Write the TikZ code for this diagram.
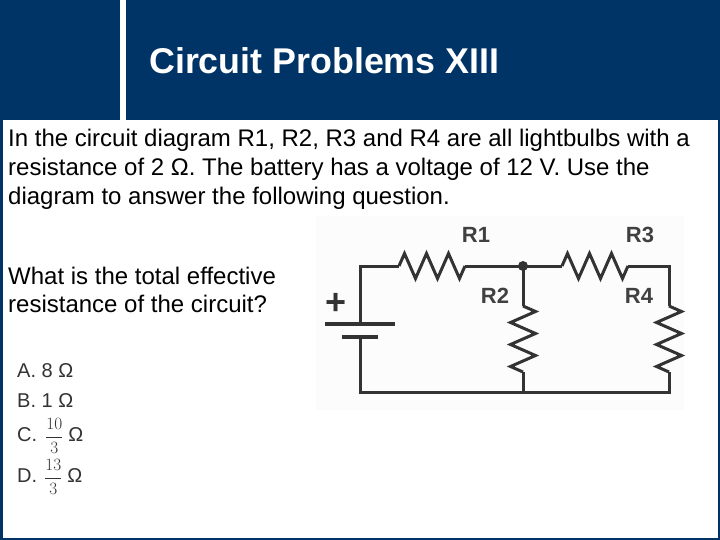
\documentclass[tikz,border=0pt]{standalone}
\usepackage{fontspec}
\setmainfont{Liberation Sans}
\usetikzlibrary{positioning}
\usetikzlibrary{decorations.pathmorphing}
\definecolor{navy}{HTML}{003366}
\DeclareMathSizes{16}{16}{12}{9}

\begin{document}
\begin{tikzpicture}[x=1pt, y=-1pt,
        title/.style={text=white, font=\bfseries\fontsize{35.8}{38}\selectfont, anchor=west, inner sep=0pt},
        bodytext/.style={text=black, font=\fontsize{24}{26}\selectfont, anchor=west, inner sep=0pt, text height=17pt, text depth=5pt},
        choice/.style={text=black!80, font=\fontsize{20}{22}\selectfont, anchor=west, inner sep=0pt},
        reslabel/.style={text=black!75, font=\bfseries\fontsize{22}{24}\selectfont, inner sep=0pt},
        wire/.style={black!80, line width=3pt},
        plate/.style={black!80, line width=4pt},
        resistor/.style={wire, decorate, decoration={zigzag, segment length=22pt, amplitude=12.5pt, pre length=0pt, post length=0pt}}
      ]
        \useasboundingbox (0,0) rectangle (720,540);
        \fill[navy] (0,0) rectangle (720,540);
        \fill[white] (3,120) rectangle (718,538);
        \fill[white] (120,0) rectangle (126,120);
        \fill[black!1] (316,216) rectangle (684,410);

        \node[title] (title) at (149,61) {Circuit Problems XIII};

        \node[bodytext] (line1) at (8,141) {In the circuit diagram R1, R2, R3 and R4 are all lightbulbs with a};
        \node[bodytext] (line2) [below=29pt of line1.west, anchor=west] {resistance of 2 Ω. The battery has a voltage of 12 V. Use the};
        \node[bodytext] (line3) [below=29pt of line2.west, anchor=west] {diagram to answer the following question.};
        \node[bodytext] (quest1) at (8,278) {What is the total effective};
        \node[bodytext] (quest2) [below=28pt of quest1.west, anchor=west] {resistance of the circuit?};

        \node[choice, text height=14pt, text depth=0pt] (choiceA) at (17,370) {A. 8 Ω};
        \node[choice, text height=14pt, text depth=0pt] (choiceB) [below=30pt of choiceA.west, anchor=west] {B. 1 Ω};
        \node[choice] (choiceC) at (17,436) {C.\hspace{8pt}{\fontsize{16}{18}\selectfont$\displaystyle\frac{10}{3}$}\hspace{5pt}Ω};
        \node[choice] (choiceD) [below=41pt of choiceC.west, anchor=west] {D.\hspace{7pt}{\fontsize{16}{18}\selectfont$\displaystyle\frac{13}{3}$}\hspace{5pt}Ω};

        \coordinate (topleft) at (360,266);
        \coordinate (r1a) at (399,266);
        \coordinate (r1b) at (465,266);
        \coordinate (mid) at (523,266);
        \coordinate (r3a) at (562,266);
        \coordinate (r3b) at (628,266);
        \coordinate (topright) at (669,266);
        \coordinate (r2a) at (523,306);
        \coordinate (r2b) at (523,372);
        \coordinate (r4a) at (669,306);
        \coordinate (r4b) at (669,372);
        \coordinate (midbot) at (523,392);
        \coordinate (botright) at (669,392);
        \coordinate (botleft) at (360,392);
        \coordinate (platelong) at (360,324);
        \coordinate (plateshort) at (360,337);

        \draw[wire] (platelong) -- (topleft) -- (r1a);
        \draw[resistor] (r1a) -- (r1b);
        \draw[wire] (r1b) -- (mid) -- (r3a);
        \draw[resistor] (r3a) -- (r3b);
        \draw[wire] (r3b) -- (topright) -- (r4a);
        \draw[resistor] (r4a) -- (r4b);
        \draw[wire] (r4b) -- (botright) -- (botleft) -- (plateshort);
        \draw[wire] (mid) -- (r2a);
        \draw[resistor] (r2a) -- (r2b);
        \draw[wire] (r2b) -- (midbot);
        \fill[black!80] (mid) circle (5);

        \draw[plate] ([xshift=-35pt]platelong) -- ([xshift=35pt]platelong);
        \draw[plate] ([xshift=-18pt]plateshort) -- ([xshift=18pt]plateshort);
        \node[text=black!80, font=\bfseries\fontsize{36}{38}\selectfont, inner sep=0pt] (plus) at (336,304) {+};

        \node[reslabel] (labelA) at (476,235) {R1};
        \node[reslabel] (labelB) at (495,296) {R2};
        \node[reslabel] (labelC) at (640,235) {R3};
        \node[reslabel] (labelD) at (639,296) {R4};
      \end{tikzpicture}
\end{document}
